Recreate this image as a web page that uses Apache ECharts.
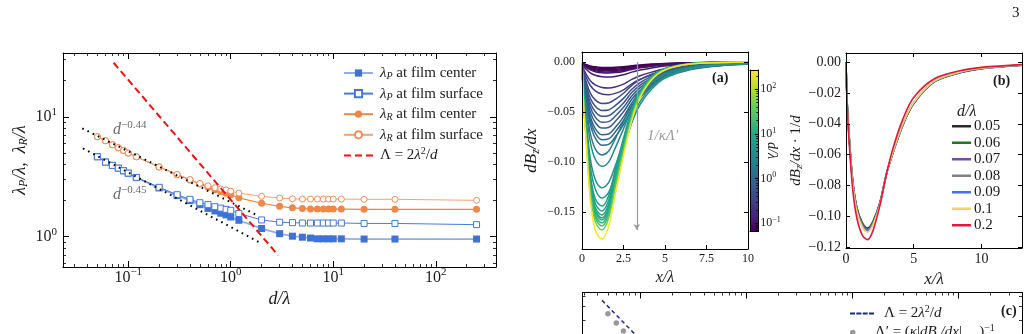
<!DOCTYPE html>
<html><head><meta charset="utf-8">
<script src="https://cdn.jsdelivr.net/npm/echarts@6/dist/echarts.min.js"></script>
<style>html,body{margin:0;padding:0;background:#fff}#c{width:1029px;height:334px}</style>
</head><body><div id="c"></div>
<script>
// ================= DATA =================
// Left panel: penetration depths vs film thickness
const dValues = [0.05,0.06,0.07,0.08,0.09,0.1,0.12,0.2,0.3,0.4,0.5,0.6,0.7,0.8,0.9,1.0,1.2,2,3,4,5,6,7,8,9,10,12,20,40,250];
const lamPCenter  = [4.64,4.19,3.93,3.72,3.54,3.38,3.11,2.55,2.20,2.00,1.85,1.72,1.64,1.57,1.52,1.46,1.37,1.17,1.06,1.01,0.99,0.975,0.96,0.96,0.96,0.96,0.96,0.956,0.956,0.956];
const lamPSurface = [4.64,4.19,3.93,3.73,3.55,3.39,3.12,2.58,2.24,2.05,1.92,1.85,1.78,1.73,1.69,1.66,1.56,1.38,1.32,1.31,1.30,1.30,1.30,1.30,1.30,1.30,1.30,1.29,1.29,1.26];
const lamRCenter  = [6.81,6.31,5.84,5.52,5.24,4.98,4.64,3.81,3.29,2.97,2.75,2.59,2.46,2.37,2.30,2.24,2.11,1.90,1.79,1.74,1.72,1.70,1.70,1.70,1.70,1.70,1.70,1.69,1.69,1.69];
const lamRSurface = [6.81,6.31,5.84,5.52,5.24,4.98,4.64,3.81,3.31,3.00,2.78,2.66,2.56,2.50,2.45,2.40,2.31,2.17,2.10,2.07,2.06,2.06,2.06,2.06,2.06,2.06,2.06,2.05,2.05,2.01];
const pearlD = [0.072, 2.9];          // Λ = 2λ²/d line ends
const pearlY = [28.2, 0.70];
const fit044D = [0.0356, 1.78];
const fit044Y = [8.0, 1.52];
const fit045D = [0.0362, 1.99];
const fit045Y = [5.45, 0.88];
const fitLabelD = [0.071, 0.071];
const fitLabelY = [7.74, 2.23];
const fitLabelExp = ['−0.44', '−0.45'];
const logTickExp = [-1, 0, 1, 2];
const leftXRange = [0.0231, 387];
const leftYRange = [0.559, 34];

// Panel (a): dBz/dx curves for each d in dValues
const xGridA = [0,0.1,0.25,0.5,0.8,1.2,1.6,2.0,2.5,3.0,3.5,4.2,5.0,6.5,8.5,10];
const curvesA = [
 [0,-0.0015,-0.0026,-0.0040,-0.0048,-0.0054,-0.0055,-0.0053,-0.0047,-0.0037,-0.0029,-0.0021,-0.0014,-0.0007,-0.0003,-0.0002],
 [0,-0.0018,-0.0031,-0.0048,-0.0058,-0.0065,-0.0066,-0.0063,-0.0056,-0.0044,-0.0035,-0.0026,-0.0017,-0.0009,-0.0004,-0.0003],
 [0,-0.0021,-0.0036,-0.0055,-0.0068,-0.0075,-0.0077,-0.0074,-0.0065,-0.0052,-0.0041,-0.0030,-0.0020,-0.0010,-0.0005,-0.0003],
 [0,-0.0024,-0.0041,-0.0063,-0.0077,-0.0086,-0.0088,-0.0084,-0.0075,-0.0059,-0.0047,-0.0034,-0.0023,-0.0011,-0.0005,-0.0004],
 [0,-0.0027,-0.0047,-0.0071,-0.0087,-0.0097,-0.0099,-0.0095,-0.0084,-0.0066,-0.0052,-0.0039,-0.0026,-0.0013,-0.0006,-0.0004],
 [0,-0.0030,-0.0052,-0.0079,-0.0097,-0.0108,-0.0110,-0.0106,-0.0094,-0.0074,-0.0058,-0.0043,-0.0029,-0.0014,-0.0007,-0.0004],
 [0,-0.0041,-0.0071,-0.0108,-0.0132,-0.0147,-0.0150,-0.0144,-0.0128,-0.0101,-0.0080,-0.0059,-0.0039,-0.0020,-0.0009,-0.0006],
 [0,-0.0070,-0.0122,-0.0187,-0.0229,-0.0255,-0.0260,-0.0250,-0.0221,-0.0174,-0.0138,-0.0101,-0.0068,-0.0034,-0.0016,-0.0010],
 [0,-0.0088,-0.0154,-0.0235,-0.0288,-0.0320,-0.0327,-0.0314,-0.0278,-0.0219,-0.0173,-0.0128,-0.0085,-0.0043,-0.0020,-0.0013],
 [0,-0.0110,-0.0194,-0.0311,-0.0379,-0.0415,-0.0410,-0.0374,-0.0312,-0.0234,-0.0176,-0.0123,-0.0079,-0.0038,-0.0017,-0.0011],
 [0,-0.0129,-0.0227,-0.0363,-0.0442,-0.0484,-0.0479,-0.0436,-0.0364,-0.0273,-0.0206,-0.0144,-0.0092,-0.0045,-0.0020,-0.0013],
 [0,-0.0145,-0.0255,-0.0407,-0.0497,-0.0543,-0.0537,-0.0490,-0.0409,-0.0306,-0.0231,-0.0161,-0.0103,-0.0050,-0.0023,-0.0015],
 [0,-0.0160,-0.0282,-0.0451,-0.0551,-0.0602,-0.0596,-0.0543,-0.0453,-0.0340,-0.0256,-0.0179,-0.0115,-0.0056,-0.0025,-0.0016],
 [0,-0.0176,-0.0310,-0.0496,-0.0605,-0.0661,-0.0655,-0.0596,-0.0498,-0.0373,-0.0281,-0.0196,-0.0126,-0.0061,-0.0027,-0.0018],
 [0,-0.0194,-0.0341,-0.0545,-0.0666,-0.0727,-0.0720,-0.0656,-0.0548,-0.0410,-0.0310,-0.0216,-0.0139,-0.0067,-0.0030,-0.0020],
 [0,-0.0207,-0.0364,-0.0582,-0.0711,-0.0777,-0.0769,-0.0700,-0.0585,-0.0438,-0.0331,-0.0231,-0.0148,-0.0072,-0.0032,-0.0021],
 [0,-0.0222,-0.0390,-0.0624,-0.0761,-0.0832,-0.0824,-0.0750,-0.0626,-0.0470,-0.0354,-0.0247,-0.0158,-0.0077,-0.0035,-0.0023],
 [0,-0.0241,-0.0428,-0.0712,-0.0869,-0.0930,-0.0893,-0.0768,-0.0597,-0.0415,-0.0290,-0.0185,-0.0110,-0.0048,-0.0021,-0.0012],
 [0,-0.0270,-0.0480,-0.0798,-0.0973,-0.1043,-0.1001,-0.0861,-0.0669,-0.0465,-0.0326,-0.0207,-0.0123,-0.0054,-0.0023,-0.0014],
 [0,-0.0326,-0.0579,-0.0963,-0.1175,-0.1258,-0.1207,-0.1039,-0.0807,-0.0561,-0.0393,-0.0250,-0.0148,-0.0065,-0.0028,-0.0016],
 [0,-0.0352,-0.0626,-0.1041,-0.1270,-0.1360,-0.1306,-0.1123,-0.0873,-0.0607,-0.0425,-0.0270,-0.0160,-0.0070,-0.0030,-0.0018],
 [0,-0.0360,-0.0648,-0.1123,-0.1368,-0.1440,-0.1339,-0.1080,-0.0763,-0.0475,-0.0288,-0.0144,-0.0065,-0.0017,-0.0004,0],
 [0,-0.0373,-0.0671,-0.1162,-0.1416,-0.1490,-0.1386,-0.1118,-0.0790,-0.0492,-0.0298,-0.0149,-0.0067,-0.0018,-0.0004,0],
 [0,-0.0383,-0.0689,-0.1193,-0.1454,-0.1530,-0.1423,-0.1148,-0.0811,-0.0505,-0.0306,-0.0153,-0.0069,-0.0018,-0.0005,0],
 [0,-0.0390,-0.0702,-0.1217,-0.1482,-0.1560,-0.1451,-0.1170,-0.0827,-0.0515,-0.0312,-0.0156,-0.0070,-0.0019,-0.0005,0],
 [0,-0.0395,-0.0711,-0.1232,-0.1501,-0.1580,-0.1469,-0.1185,-0.0837,-0.0521,-0.0316,-0.0158,-0.0071,-0.0019,-0.0005,0],
 [0,-0.0403,-0.0725,-0.1256,-0.1530,-0.1610,-0.1497,-0.1208,-0.0853,-0.0531,-0.0322,-0.0161,-0.0072,-0.0019,-0.0005,0],
 [0,-0.0410,-0.0738,-0.1279,-0.1558,-0.1640,-0.1525,-0.1230,-0.0869,-0.0541,-0.0328,-0.0164,-0.0074,-0.0020,-0.0005,0],
 [0,-0.0420,-0.0756,-0.1310,-0.1596,-0.1680,-0.1562,-0.1260,-0.0890,-0.0554,-0.0336,-0.0168,-0.0076,-0.0020,-0.0005,0],
 [0,-0.0443,-0.0797,-0.1381,-0.1682,-0.1770,-0.1646,-0.1328,-0.0938,-0.0584,-0.0354,-0.0177,-0.0080,-0.0021,-0.0005,0]
];
const arrowA = [[3.3, 0.0], [3.3, -0.168]];
const xTicksA = [0, 2.5, 5, 7.5, 10];
const yTicksA = [0, -0.05, -0.10, -0.15];
const colorScaleRange = [0.065, 270];

// Panel (b): normalised curves
const labelsB = ['0.05','0.06','0.07','0.08','0.09','0.1','0.2'];
const colorsB = ['#2b2b2b','#1a7f1a','#7b4aa6','#808080','#4a6cf0','#f0d36a','#e3173d'];
const xGridB = [0,0.1,0.25,0.5,0.8,1.2,1.6,2.0,2.5,3.0,3.5,4.2,5.0,6.5,8.5,10,13];
const curvesB = [
 [0,-0.0290,-0.0500,-0.0770,-0.0940,-0.1040,-0.1075,-0.1030,-0.0910,-0.0720,-0.0580,-0.0410,-0.0270,-0.0130,-0.0068,-0.0043,-0.0021],
 [0,-0.0290,-0.0503,-0.0774,-0.0945,-0.1045,-0.1080,-0.1035,-0.0914,-0.0722,-0.0579,-0.0408,-0.0268,-0.0129,-0.0067,-0.0043,-0.0021],
 [0,-0.0292,-0.0506,-0.0778,-0.0950,-0.1050,-0.1085,-0.1040,-0.0917,-0.0722,-0.0578,-0.0406,-0.0266,-0.0128,-0.0066,-0.0042,-0.0021],
 [0,-0.0293,-0.0509,-0.0782,-0.0955,-0.1055,-0.1090,-0.1044,-0.0920,-0.0722,-0.0577,-0.0404,-0.0265,-0.0127,-0.0066,-0.0042,-0.0020],
 [0,-0.0295,-0.0512,-0.0786,-0.0960,-0.1060,-0.1095,-0.1048,-0.0922,-0.0722,-0.0576,-0.0402,-0.0263,-0.0126,-0.0065,-0.0041,-0.0020],
 [0,-0.0297,-0.0515,-0.0790,-0.0965,-0.1065,-0.1100,-0.1052,-0.0924,-0.0722,-0.0575,-0.0400,-0.0262,-0.0125,-0.0064,-0.0041,-0.0020],
 [0,-0.0310,-0.0540,-0.0830,-0.1010,-0.1120,-0.1150,-0.1090,-0.0930,-0.0720,-0.0550,-0.0370,-0.0230,-0.0110,-0.0055,-0.0035,-0.0017]
];
const xTicksB = [0, 5, 10];
const yTicksB = [0, -0.02, -0.04, -0.06, -0.08, -0.10, -0.12];

// Panel (c): only the top strip is visible
const pearlCD = [0.044, 3.0];
const pearlCY = [45.5, 0.667];
const lamPrimeD = [0.05, 0.06, 0.07];
const lamPrimeY = [34.4, 28.3, 23.9];
const cXRange = [0.0288, 398];
const cYRange = [22.4, 53.7];   // visible strip only

// ================= BUILD =================
const SERIF = '"Liberation Serif","DejaVu Serif",serif';
const TXT = '#1a1a1a';
const L10 = Math.log10;
const minus = s => String(s).replace('-', '−');
const supTick = e => '{b|10}{s|' + minus(e) + '}';
const tickRich = (fs) => ({
  b: {fontSize: fs, fontFamily: SERIF, color: TXT},
  s: {fontSize: Math.round(fs * 0.68), fontFamily: SERIF, color: TXT, padding: [0, 0, Math.round(fs * 0.62), 0]}
});
const mathRich = (fs) => ({
  i: {fontSize: fs, fontFamily: SERIF, fontStyle: 'italic', color: TXT},
  r: {fontSize: fs, fontFamily: SERIF, color: TXT},
  sub: {fontSize: Math.round(fs * 0.68), fontFamily: SERIF, fontStyle: 'italic', color: TXT, padding: [Math.round(fs * 0.45), 0, 0, 0]},
  subr: {fontSize: Math.round(fs * 0.68), fontFamily: SERIF, color: TXT, padding: [Math.round(fs * 0.45), 0, 0, 0]},
  sup: {fontSize: Math.round(fs * 0.68), fontFamily: SERIF, color: TXT, padding: [0, 0, Math.round(fs * 0.6), 0]}
});
function minorLog(lo, hi) {
  const out = [];
  for (let e = Math.floor(L10(lo)); e <= Math.ceil(L10(hi)); e++)
    for (let k = 2; k <= 9; k++) { const v = k * Math.pow(10, e); if (v >= lo && v <= hi) out.push(L10(v)); }
  return out;
}
const viridisStops = ['#440154','#482475','#414487','#355f8d','#2a788e','#21918c','#22a884','#44bf70','#7ad151','#bddf26','#fde725'];
function hexToRgb(h){return [1,3,5].map(i=>parseInt(h.substr(i,2),16));}
function viridis(t){
  t = Math.max(0, Math.min(1, t));
  const p = t * (viridisStops.length - 1), i = Math.min(Math.floor(p), viridisStops.length - 2), f = p - i;
  const a = hexToRgb(viridisStops[i]), b = hexToRgb(viridisStops[i + 1]);
  return 'rgb(' + a.map((v, k) => Math.round(v + (b[k] - v) * f)).join(',') + ')';
}

const grids = [], xAxes = [], yAxes = [], series = [], legends = [], graphics = [];
const axLine = {show: true, onZero: false, lineStyle: {color: '#000', width: 1}};
const noLine = {show: false, onZero: false};
function addGrid(b) { grids.push(Object.assign({show: false, containLabel: false, outerBoundsMode: 'none'}, b)); return grids.length - 1; }
// frame: four axes (bottom/top/left/right) with inside ticks
function addFrame(gi, c) {
  const xi = xAxes.length, yi = yAxes.length;
  const tl = c.tickLen, lw = c.line === false ? noLine : axLine;
  const tw = c.tickWidth || 1;
  const hideBottom = !!c.hideBottom;
  xAxes.push({gridIndex: gi, type: 'value', position: 'bottom', min: c.xr[0], max: c.xr[1], z: 6,
    axisLine: hideBottom ? noLine : lw, splitLine: {show: false},
    axisTick: {show: !hideBottom && c.xTicks.length > 0, inside: true, length: tl, customValues: c.xTicks, lineStyle: {color: '#000', width: tw}},
    axisLabel: c.xLabel ? Object.assign({show: true, customValues: c.xTicks}, c.xLabel) : {show: false},
    name: c.xName || '', nameLocation: 'middle', nameGap: c.xNameGap || 0, nameTextStyle: c.xNameStyle || {}});
  xAxes.push({gridIndex: gi, type: 'value', position: 'top', min: c.xr[0], max: c.xr[1], z: 6,
    axisLine: lw, splitLine: {show: false},
    axisTick: {show: c.xTicks.length > 0, inside: true, length: tl, customValues: c.xTicks, lineStyle: {color: '#000', width: tw}},
    axisLabel: {show: false}});
  yAxes.push({gridIndex: gi, type: 'value', position: 'left', min: c.yr[0], max: c.yr[1], z: 6,
    axisLine: lw, splitLine: {show: false},
    axisTick: {show: c.yTicks.length > 0, inside: true, length: tl, customValues: c.yTicks, lineStyle: {color: '#000', width: tw}},
    axisLabel: c.yLabel ? Object.assign({show: true, customValues: c.yTicks}, c.yLabel) : {show: false},
    name: c.yName || '', nameLocation: 'middle', nameGap: c.yNameGap || 0, nameRotate: 90, nameTextStyle: c.yNameStyle || {}});
  yAxes.push({gridIndex: gi, type: 'value', position: 'right', min: c.yr[0], max: c.yr[1], z: 6,
    axisLine: lw, splitLine: {show: false},
    axisTick: {show: c.yTicks.length > 0, inside: true, length: tl, customValues: c.yTicks, lineStyle: {color: '#000', width: tw}},
    axisLabel: {show: false}});
  return {x: xi, y: yi};
}

// ---------- Left panel ----------
const boxL = {left: 63, top: 53, width: 433, height: 214};
const gL = addGrid(boxL);
const lxr = [L10(leftXRange[0]), L10(leftXRange[1])], lyr = [L10(leftYRange[0]), L10(leftYRange[1])];
const axL = addFrame(gL, {xr: lxr, yr: lyr, tickLen: 6, xTicks: logTickExp, yTicks: [0, 1],
  xLabel: {formatter: v => supTick(v), margin: 0, rich: tickRich(16)},
  yLabel: {formatter: v => supTick(v), margin: 6, rich: tickRich(16)},
  xName: '{i|d/λ}', xNameGap: 13, xNameStyle: {rich: mathRich(18)},
  yName: '{i|λ}{sub|P}{i|/λ,  λ}{sub|R}{i|/λ}', yNameGap: 33, yNameStyle: {rich: mathRich(18)}});
const gLm = addGrid(boxL);
addFrame(gLm, {xr: lxr, yr: lyr, tickLen: 3, line: false, tickWidth: 0.8,
  xTicks: minorLog(leftXRange[0], leftXRange[1]), yTicks: minorLog(leftYRange[0], leftYRange[1])});
const toLog = (xs, ys) => xs.map((x, i) => [L10(x), L10(ys[i])]);
const BLUE = '#3f72d6', ORANGE = '#ef8748';
series.push({name: 'pc', type: 'line', xAxisIndex: axL.x, yAxisIndex: axL.y, data: toLog(dValues, lamPCenter),
  symbol: 'rect', symbolSize: 7, itemStyle: {color: BLUE}, lineStyle: {color: '#8db0ec', width: 1.8}, z: 3});
series.push({name: 'ps', type: 'line', xAxisIndex: axL.x, yAxisIndex: axL.y, data: toLog(dValues, lamPSurface),
  symbol: 'rect', symbolSize: 6, itemStyle: {color: '#ffffff', borderColor: '#4577da', borderWidth: 1}, lineStyle: {color: '#4a7bdb', width: 1}, z: 3});
series.push({name: 'rc', type: 'line', xAxisIndex: axL.x, yAxisIndex: axL.y, data: toLog(dValues, lamRCenter),
  symbol: 'circle', symbolSize: 7, itemStyle: {color: ORANGE}, lineStyle: {color: '#ee8444', width: 1.2}, z: 3});
series.push({name: 'rs', type: 'line', xAxisIndex: axL.x, yAxisIndex: axL.y, data: toLog(dValues, lamRSurface),
  symbol: 'circle', symbolSize: 6, itemStyle: {color: '#ffffff', borderColor: '#f08e5a', borderWidth: 1}, lineStyle: {color: '#f4a274', width: 1}, z: 3});
series.push({name: 'lam', type: 'line', xAxisIndex: axL.x, yAxisIndex: axL.y, data: toLog(pearlD, pearlY),
  symbol: 'none', lineStyle: {color: '#ee1111', width: 2, type: [7, 4]}, itemStyle: {color: '#ee1111'}, z: 5});
series.push({name: 'fit1', type: 'line', xAxisIndex: axL.x, yAxisIndex: axL.y, data: toLog(fit044D, fit044Y),
  symbol: 'none', lineStyle: {color: '#000', width: 2, type: [1.6, 4.2]}, z: 6});
series.push({name: 'fit2', type: 'line', xAxisIndex: axL.x, yAxisIndex: axL.y, data: toLog(fit045D, fit045Y),
  symbol: 'none', lineStyle: {color: '#000', width: 2, type: [1.6, 4.2]}, z: 6});
series.push({name: 'fitlab', type: 'scatter', xAxisIndex: axL.x, yAxisIndex: axL.y, data: toLog(fitLabelD, fitLabelY),
  symbolSize: 0, silent: true, z: 6,
  label: {show: true, position: 'right', distance: 0,
    formatter: p => '{i|d}{sup|' + fitLabelExp[p.dataIndex] + '}',
    rich: {i: {fontSize: 16, fontFamily: SERIF, fontStyle: 'italic', color: '#444'}, sup: {fontSize: 11, fontFamily: SERIF, color: '#444', padding: [0, 0, 10, 0]}}}});
const legNames = {
  pc: '{i|λ}{sub|P}{r| at film center}', ps: '{i|λ}{sub|P}{r| at film surface}',
  rc: '{i|λ}{sub|R}{r| at film center}', rs: '{i|λ}{sub|R}{r| at film surface}',
  lam: '{r|Λ = 2}{i|λ}{sup|2}{r|/}{i|d}'
};
legends.push({left: 338, top: 58, orient: 'vertical', itemWidth: 29, itemHeight: 9, itemGap: 0.6,
  data: ['pc', 'ps', 'rc', 'rs', {name: 'lam', icon: 'path://M0,0h7v2h-7zM11,0h7v2h-7zM22,0h7v2h-7z'}],
  formatter: n => legNames[n], selectedMode: false,
  textStyle: {padding: [0, 0, 0, 2], lineHeight: 20, rich: mathRich(15)}});

// ---------- Panel (a) ----------
const gA = addGrid({left: 582, top: 52, width: 166, height: 197});
const axA = addFrame(gA, {xr: [0, 10], yr: [-0.187, 0.01], tickLen: 4, xTicks: xTicksA, yTicks: yTicksA,
  xLabel: {formatter: v => String(v), margin: 4, fontFamily: SERIF, fontSize: 12, color: TXT},
  yLabel: {formatter: v => minus(v.toFixed(2)), margin: 7, fontFamily: SERIF, fontSize: 12, color: TXT},
  xName: '{i|x/λ}', xNameGap: 15, xNameStyle: {rich: mathRich(16)},
  yName: '{i|dB}{sub|z}{i|/dx}', yNameGap: 40, yNameStyle: {rich: mathRich(17)}});
const cbL = L10(colorScaleRange[0]), cbH = L10(colorScaleRange[1]);
dValues.forEach((d, k) => {
  series.push({name: 'a' + k, type: 'line', xAxisIndex: axA.x, yAxisIndex: axA.y, silent: true,
    data: xGridA.map((x, i) => [x, curvesA[k][i]]), symbol: 'none', smooth: 0.35,
    lineStyle: {color: viridis((L10(d) - cbL) / (cbH - cbL)), width: 1.5}, z: 2});
});
series.push({name: 'arrowA', type: 'line', xAxisIndex: axA.x, yAxisIndex: axA.y, data: [], silent: true,
  markLine: {silent: true, symbol: ['none', 'arrow'], symbolSize: [5, 6], label: {show: false},
    lineStyle: {color: '#999', width: 1.2, type: 'solid'},
    data: [[{coord: arrowA[0]}, {coord: arrowA[1]}]]}, z: 4});

// ---------- Colorbar ----------
const gCB = addGrid({left: 750, top: 70, width: 8.3, height: 161.7});
const cbX = xAxes.length, cbY = yAxes.length;
xAxes.push({gridIndex: gCB, type: 'value', min: 0, max: 1, position: 'bottom', z: 6, axisLine: axLine, axisTick: {show: false}, axisLabel: {show: false}, splitLine: {show: false}});
xAxes.push({gridIndex: gCB, type: 'value', min: 0, max: 1, position: 'top', z: 6, axisLine: axLine, axisTick: {show: false}, axisLabel: {show: false}, splitLine: {show: false}});
yAxes.push({gridIndex: gCB, type: 'value', min: cbL, max: cbH, position: 'right', z: 6, axisLine: axLine, splitLine: {show: false},
  axisTick: {show: true, inside: true, length: 3.5, customValues: logTickExp, lineStyle: {color: '#000', width: 1}},
  axisLabel: {show: true, customValues: logTickExp, formatter: v => supTick(v), margin: 2, rich: tickRich(12)}});
yAxes.push({gridIndex: gCB, type: 'value', min: cbL, max: cbH, position: 'left', z: 6, axisLine: axLine, axisTick: {show: false}, axisLabel: {show: false}, splitLine: {show: false}});
const gCBm = addGrid({left: 750, top: 70, width: 8.3, height: 161.7});
xAxes.push({gridIndex: gCBm, type: 'value', min: 0, max: 1, show: false, axisLine: noLine});
yAxes.push({gridIndex: gCBm, type: 'value', min: cbL, max: cbH, position: 'right', z: 6, axisLine: noLine, splitLine: {show: false}, axisLabel: {show: false},
  axisTick: {show: true, inside: true, length: 2, customValues: minorLog(colorScaleRange[0], colorScaleRange[1]), lineStyle: {color: '#000', width: 0.8}}});
series.push({name: 'cbar', type: 'custom', xAxisIndex: cbX, yAxisIndex: cbY, silent: true, z: 1,
  data: [[0, cbL, cbH]],
  renderItem: (p, api) => {
    const a = api.coord([0, api.value(2)]), b = api.coord([1, api.value(1)]);
    const stops = viridisStops.map((c, i) => ({offset: i / (viridisStops.length - 1), color: c})).reverse()
      .map((s) => ({offset: 1 - s.offset, color: s.color}));
    return {type: 'rect', shape: {x: a[0], y: a[1], width: b[0] - a[0], height: b[1] - a[1]},
      style: {fill: new echarts.graphic.LinearGradient(0, 0, 0, 1, stops)}};
  }});

// ---------- Panel (b) ----------
const gB = addGrid({left: 846, top: 53, width: 176, height: 195});
const axB = addFrame(gB, {xr: [0, 13], yr: [-0.1204, 0.0058], tickLen: 4, xTicks: xTicksB, yTicks: yTicksB,
  xLabel: {formatter: v => String(v), margin: 4, fontFamily: SERIF, fontSize: 14, color: TXT},
  yLabel: {formatter: v => minus(v.toFixed(2)), margin: 5, fontFamily: SERIF, fontSize: 14, color: TXT},
  xName: '{i|x/λ}', xNameGap: 15, xNameStyle: {rich: mathRich(17)},
  yName: '{i|dB}{sub|z}{i|/dx }{r|· 1/}{i|d}', yNameGap: 37, yNameStyle: {rich: mathRich(15)}});
labelsB.forEach((lab, k) => {
  series.push({name: lab, type: 'line', xAxisIndex: axB.x, yAxisIndex: axB.y, silent: true,
    data: xGridB.map((x, i) => [x, curvesB[k][i]]), symbol: 'none', smooth: 0.35,
    itemStyle: {color: colorsB[k]}, lineStyle: {color: colorsB[k], width: 1.6}, z: 2 + k * 0.01});
});
legends.push({left: 947, top: 113, orient: 'vertical', itemWidth: 19, itemHeight: 2.5, itemGap: 0,
  icon: 'rect', data: labelsB, selectedMode: false,
  textStyle: {fontFamily: SERIF, fontSize: 15, color: TXT, lineHeight: 16.5, padding: [0, 0, 0, -2]}});

// ---------- Panel (c) ----------
const boxC = {left: 582.5, top: 292.5, width: 439.5, height: 41.5};
const gC = addGrid(boxC);
const cxr = [L10(cXRange[0]), L10(cXRange[1])];
const cyr = [L10(cYRange[0]), L10(cYRange[1])];
const axC = addFrame(gC, {xr: cxr, yr: cyr, tickLen: 6, xTicks: logTickExp, yTicks: [], hideBottom: true});
const gCm = addGrid(boxC);
addFrame(gCm, {xr: cxr, yr: cyr, tickLen: 3, line: false, tickWidth: 0.8, hideBottom: true,
  xTicks: minorLog(cXRange[0], cXRange[1]), yTicks: minorLog(cYRange[0], cYRange[1])});
series.push({name: 'lamC', type: 'line', xAxisIndex: axC.x, yAxisIndex: axC.y, data: toLog(pearlCD, pearlCY),
  symbol: 'none', lineStyle: {color: '#1a2a8c', width: 1.5, type: [4, 3]}, itemStyle: {color: '#1a2a8c'}, z: 4});
series.push({name: 'lamP', type: 'scatter', xAxisIndex: axC.x, yAxisIndex: axC.y, data: toLog(lamPrimeD, lamPrimeY),
  symbolSize: 5.5, itemStyle: {color: '#808080'}, z: 4});
const legCNames = {lamC: '{r|Λ = 2}{i|λ}{sup|2}{r|/}{i|d}', lamP: '{r|Λ′ = (}{i|κ}{r||}{i|dB}{sub|z}{i|/dx}{r||}{subr|max}{r|)}{sup|−1}'};
legends.push({left: 845, top: 299, orient: 'vertical', itemWidth: 24, itemHeight: 5.5, itemGap: 0,
  data: [{name: 'lamC', icon: 'path://M0,0h5v2h-5zM6.3,0h5v2h-5zM12.6,0h5v2h-5zM18.9,0h5v2h-5z'}],
  formatter: n => legCNames[n], selectedMode: false,
  textStyle: {padding: [0, 0, 0, 5], lineHeight: 19, rich: mathRich(15)}});
legends.push({left: 845, top: 318, orient: 'vertical', itemWidth: 24, itemHeight: 5.5, itemGap: 0,
  data: [{name: 'lamP', icon: 'circle'}],
  formatter: n => legCNames[n], selectedMode: false,
  textStyle: {padding: [0, 0, 0, 5], lineHeight: 19, rich: mathRich(15)}});

// ---------- Text annotations ----------
const tStyle = (o) => Object.assign({fontFamily: SERIF, fill: TXT}, o);
graphics.push({type: 'text', left: 1012, top: 6, style: tStyle({text: '3', fontSize: 15})});
graphics.push({type: 'text', left: 712, top: 71, style: tStyle({text: '(a)', fontSize: 14, fontWeight: 'bold'})});
graphics.push({type: 'text', left: 993, top: 74, style: tStyle({text: '(b)', fontSize: 14, fontWeight: 'bold'})});
graphics.push({type: 'text', left: 1001, top: 304, style: tStyle({text: '(c)', fontSize: 14, fontWeight: 'bold'})});
graphics.push({type: 'text', left: 647, top: 129, style: {text: '1/κΛ′', fontFamily: SERIF, fontSize: 15, fontStyle: 'italic', fill: '#9a9a9a'}});
graphics.push({type: 'text', left: 957, top: 104, style: tStyle({text: 'd/λ', fontSize: 16, fontStyle: 'italic'})});
graphics.push({type: 'text', x: 779, y: 142, rotation: -Math.PI / 2, style: tStyle({text: 'd/λ', fontSize: 14, fontStyle: 'italic'})});

const chart = echarts.init(document.getElementById('c'), null, {renderer: 'canvas', width: 1029, height: 334});
chart.setOption({
  animation: false, backgroundColor: '#fff',
  grid: grids, xAxis: xAxes, yAxis: yAxes, series: series, legend: legends, graphic: graphics
});
</script></body></html>
